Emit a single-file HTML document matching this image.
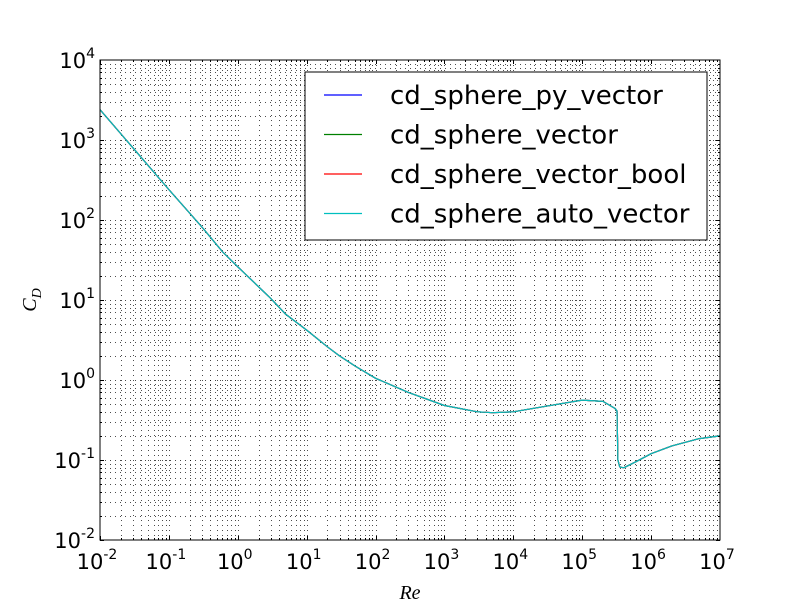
<!DOCTYPE html>
<html><head><meta charset="utf-8"><style>
body{margin:0;background:#fff;}
svg{display:block;font-family:"DejaVu Sans","Liberation Sans",sans-serif;}
</style></head><body>
<svg id="chart" width="800" height="600" xmlns="http://www.w3.org/2000/svg">
<rect width="800" height="600" fill="#fff"/>
<g id="grid"></g>
<g id="series"></g>
<g id="axes"></g>
<g id="legend"></g>
<text x="410" y="599" font-family="Liberation Serif,serif" font-style="italic" font-size="20" text-anchor="middle">Re</text>
<text transform="translate(36,300) rotate(-90)" font-family="Liberation Serif,serif" font-style="italic" font-size="20" text-anchor="middle">C<tspan font-size="14" dy="5">D</tspan></text>
</svg>
<script>
const reValues=[0.01,0.1,0.3,0.6,1,3,5,10,20,30,50,100,300,1000,3000,5000,10000,30000,100000,200000,300000,320000,330000,350000,400000,600000,1000000,2000000,5000000,10000000];
const cdValues=[2400,240,82,40,26,10.5,6.6,4.2,2.6,2.0,1.5,1.05,0.7,0.48,0.4,0.39,0.4,0.47,0.56,0.54,0.44,0.41,0.1,0.082,0.08,0.095,0.12,0.15,0.185,0.2];
const seriesNames=["cd_sphere_py_vector","cd_sphere_vector","cd_sphere_vector_bool","cd_sphere_auto_vector"];
const seriesColors=["#0000ff","#008000","#ff0000","#00bfbf"];
const xTickExps=[-2,-1,0,1,2,3,4,5,6,7];
const yTickExps=[-2,-1,0,1,2,3,4];
const L=100,R=720,T=60,B=540;
const xs=v=>L+(Math.log10(v)+2)/9*(R-L);
const ys=v=>B-(Math.log10(v)+2)/6*(B-T);
const NS="http://www.w3.org/2000/svg";
function mk(tag,attrs,parent){const e=document.createElementNS(NS,tag);for(const k in attrs)e.setAttribute(k,attrs[k]);parent.appendChild(e);return e;}
const grid=document.getElementById('grid'),axes=document.getElementById('axes'),ser=document.getElementById('series'),leg=document.getElementById('legend');
for(let e=-2;e<7;e++)for(let m=1;m<10;m++){const x=Math.round(xs(m*Math.pow(10,e)))+0.5;
 if(x>L+1&&x<R-1){const g=mk('line',{x1:x,x2:x,y1:T,y2:B,stroke:'#000','stroke-opacity':0.7,'stroke-width':1,'stroke-dasharray':'1,4','shape-rendering':'crispEdges'},grid);}
 const l=m==1?4:2;mk('line',{x1:x,x2:x,y1:B,y2:B-l,stroke:'#000'},axes);mk('line',{x1:x,x2:x,y1:T,y2:T+l,stroke:'#000'},axes);}
for(let e=-2;e<4;e++)for(let m=1;m<10;m++){const y=Math.round(ys(m*Math.pow(10,e)))+0.5;
 if(y>T+1&&y<B-1){const g=mk('line',{x1:L,x2:R,y1:y,y2:y,stroke:'#000','stroke-opacity':0.7,'stroke-width':1,'stroke-dasharray':'1,4','shape-rendering':'crispEdges'},grid);}
 const l=m==1?4:2;mk('line',{x1:L,x2:L+l,y1:y,y2:y,stroke:'#000'},axes);mk('line',{x1:R,x2:R-l,y1:y,y2:y,stroke:'#000'},axes);}
seriesColors.forEach((c,i)=>{const d=reValues.map((r,j)=>(j?'L':'M')+xs(r).toFixed(1)+','+ys(cdValues[j]).toFixed(1)).join('');
 const p=mk('path',{d:d,fill:'none',stroke:c,'stroke-width':1.2,'stroke-linejoin':'round'},ser);
 
 });
mk('rect',{x:L,y:T,width:R-L,height:B-T,fill:'none',stroke:'#000','stroke-width':1},axes);
xTickExps.forEach(e=>{const t=mk('text',{x:xs(Math.pow(10,e))-3,y:569,'font-size':21,'text-anchor':'middle'},axes);
 
 t.innerHTML='10<tspan font-size="14" dy="-10">'+e+'</tspan>';});
yTickExps.forEach(e=>{const t=mk('text',{x:95,y:ys(Math.pow(10,e))+8,'font-size':21,'text-anchor':'end'},axes);
 
 t.innerHTML='10<tspan font-size="14" dy="-10">'+e+'</tspan>';});
mk('rect',{x:305,y:72,width:402,height:168,fill:'#fff',stroke:'#000','stroke-width':1},leg);
seriesNames.forEach((n,i)=>{const y=95+i*39.5;
 const g=mk('g',{},leg);
 mk('line',{x1:324,x2:362,y1:y,y2:y,stroke:seriesColors[i],'stroke-width':1.2},g);
 const t=mk('text',{x:390,y:y+9,'font-size':26},g);t.textContent=n;});
</script>
</body></html>
